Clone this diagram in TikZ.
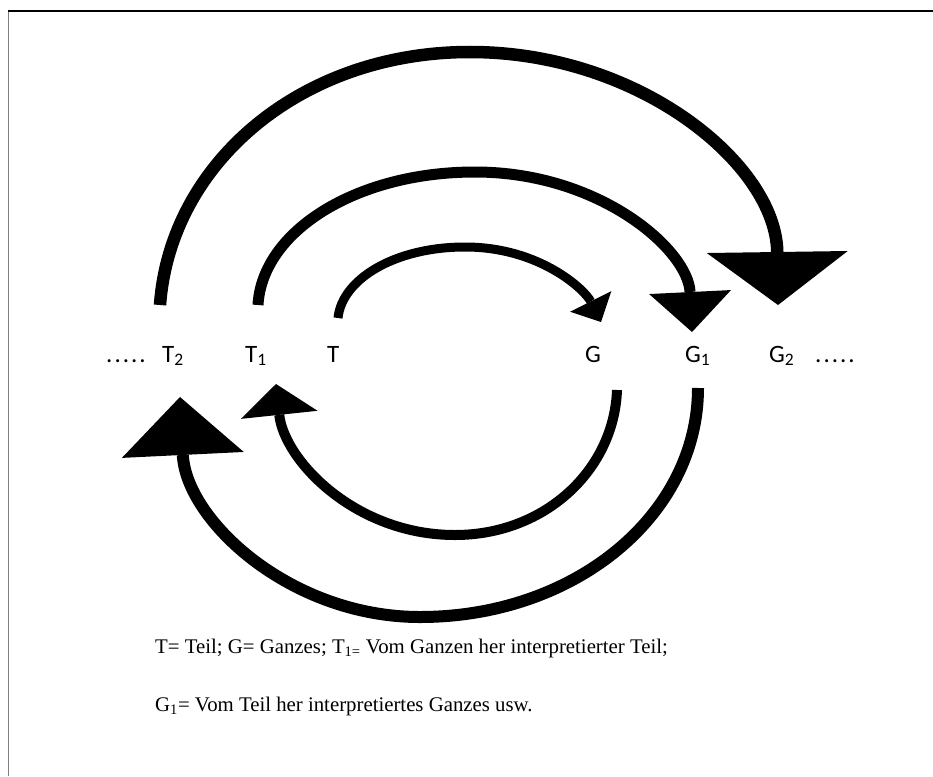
\documentclass[tikz,border=0pt]{standalone}
\usepackage{fontspec}
\setmainfont{Liberation Serif}
\newfontfamily\labelfont{Carlito}
\usetikzlibrary{arrows.meta}
\newcommand\dotrow{.\hspace{2pt}.\hspace{2pt}.\hspace{2pt}.\hspace{2pt}.}

\begin{document}
\begin{tikzpicture}[x=1pt, y=-1pt,
    lbl/.style={anchor=base west, inner sep=0pt, font=\labelfont\fontsize{25}{30}\selectfont},
    note/.style={anchor=base west, inner sep=0pt, font=\fontsize{20.8}{25}\selectfont},
    bow/.style={line width=#1}]
    \useasboundingbox (0,0) rectangle (933,776);
    % Frame
    \draw[line width=1.5pt, gray] (8.5,11) -- (8.5,776);
    \draw[line width=1.2pt] (8,11) -- (933,11);

    % Row of labels
    \node[lbl] (dotsL) at (106,362) {\dotrow};
    \node[lbl] (T2) at (162,362) {T\textsubscript{2}};
    \node[lbl] (T1) at (245,362) {T\textsubscript{1}};
    \node[lbl] (T) at (327,362) {T};
    \node[lbl] (G) at (585,362) {G};
    \node[lbl] (G1) at (685,362) {G\textsubscript{1}};
    \node[lbl] (G2) at (769,362) {G\textsubscript{2}};
    \node[lbl] (dotsR) at (815,362) {\dotrow};

    % Ends of the arcs
    \coordinate (t2up) at (160,305);
    \coordinate (t1up) at (258,305);
    \coordinate (tup) at (338,318);
    \coordinate (gtip) at (601,322);
    \coordinate (g1tip) at (692,332);
    \coordinate (g2tip) at (778,305);
    \coordinate (gdown) at (617,390);
    \coordinate (g1down) at (698,388);
    \coordinate (t1tip) at (276,384);
    \coordinate (t2tip) at (180,397);

    % Upper arcs: Teil -> Ganzes
    \draw[bow=12.5pt, -{Triangle[width=141pt,length=53pt,line width=0pt]}]
        (t2up) .. controls (170,165) and (299,52) .. (470,52)
        .. controls (640,52) and (776,165) .. (g2tip);
    \draw[bow=11pt, -{Triangle[width=82pt,length=40pt,line width=0pt]}]
        (t1up) .. controls (262,232) and (355,172) .. (475,172)
        .. controls (600,172) and (688,250) .. (g1tip);
    \draw[bow=9pt, -{Triangle[width=46pt,length=23pt,line width=0pt]}]
        (tup) .. controls (342,279) and (395,247) .. (465,247)
        .. controls (540,247) and (585,290) .. (gtip);

    % Lower arcs: Ganzes -> Teil
    \draw[bow=10pt, -{Triangle[width=77pt,length=31pt,line width=0pt]}]
        (gdown) .. controls (614,470) and (545,535) .. (455,535)
        .. controls (355,535) and (284,460) .. (t1tip);
    \draw[bow=12pt, -{Triangle[width=122pt,length=58pt,line width=0pt]}]
        (g1down) .. controls (698,515) and (575,617) .. (420,617)
        .. controls (290,617) and (186,520) .. (t2tip);

    % Legend
    \node[note] (leg1) at (155,653) {T= Teil; G= Ganzes; T\textsubscript{1=} Vom Ganzen her interpretierter Teil;};
    \node[note] (leg2) at (155,711) {G\textsubscript{1}= Vom Teil her interpretiertes Ganzes usw.};
\end{tikzpicture}
\end{document}
